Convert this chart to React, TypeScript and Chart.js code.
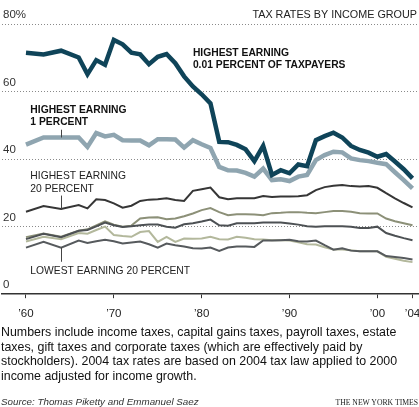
import React, { useEffect, useRef } from "react";
import { Chart, registerables } from "chart.js";

Chart.register(...registerables);

// ---- Data (percent tax rate) ----
const years = [
  1960, 1962, 1964, 1966, 1967, 1968, 1969, 1970, 1971, 1972, 1973, 1974, 1975, 1976,
  1977, 1978, 1979, 1980, 1981, 1982, 1983, 1984, 1985, 1986, 1987, 1988, 1989, 1990,
  1991, 1992, 1993, 1994, 1995, 1996, 1997, 1998, 1999, 2000, 2001, 2002, 2003, 2004,
];

const top001 = [
  71.5, 71.0, 72.1, 70.1, 65.1, 69.3, 67.9, 75.3, 74.0, 71.5, 71.0, 68.1, 70.3, 71.1,
  68.4, 64.5, 61.5, 59.2, 56.5, 45.1, 45.0, 44.2, 42.9, 39.4, 43.9, 35.3, 36.7, 35.8,
  38.4, 37.9, 45.6, 46.8, 47.8, 46.4, 43.9, 42.7, 41.9, 40.7, 41.5, 39.3, 37.0, 34.3,
];

const top1 = [
  44.3, 46.4, 46.4, 46.4, 43.6, 47.7, 46.7, 47.2, 45.6, 45.5, 45.5, 44.1, 45.9, 45.9,
  45.8, 43.4, 45.6, 44.4, 43.3, 37.7, 36.7, 36.6, 35.9, 34.8, 37.2, 33.8, 34.0, 33.5,
  34.8, 35.3, 39.7, 41.2, 42.2, 42.0, 40.2, 39.7, 39.4, 38.9, 38.5, 36.1, 33.8, 31.3,
];

const top20 = [
  24.4, 26.1, 25.2, 26.4, 25.4, 28.1, 27.9, 26.9, 25.6, 26.2, 27.6, 28.0, 28.1, 28.4,
  27.9, 27.6, 30.6, 31.1, 31.6, 28.7, 28.1, 28.4, 28.4, 28.4, 29.1, 28.8, 28.9, 28.9,
  29.0, 29.3, 30.8, 31.7, 32.1, 32.3, 32.0, 31.9, 32.0, 31.5, 29.9, 28.4, 27.0, 25.7,
];

const fourth = [
  16.9, 18.0, 17.0, 18.8, 19.2, 20.4, 21.6, 20.6, 20.0, 20.3, 22.4, 22.7, 22.8, 22.2,
  22.4, 23.1, 23.9, 24.9, 25.5, 24.3, 23.4, 23.7, 23.7, 23.6, 23.4, 24.0, 24.1, 24.3,
  24.3, 24.1, 24.0, 24.3, 24.6, 24.6, 24.4, 24.0, 23.9, 23.9, 22.4, 21.6, 21.0, 20.4,
];

const middle = [
  16.3, 17.9, 16.9, 18.8, 19.0, 20.1, 21.2, 20.4, 19.9, 20.1, 20.4, 20.6, 20.6, 20.0,
  19.7, 20.7, 21.0, 21.5, 22.1, 20.4, 20.3, 21.0, 21.0, 21.0, 21.2, 21.2, 21.2, 20.9,
  20.6, 20.1, 20.0, 20.1, 20.1, 20.1, 20.0, 19.6, 19.6, 20.0, 18.1, 17.3, 16.6, 16.0,
];

const second = [
  15.6, 17.0, 16.3, 18.1, 17.9, 19.0, 20.0, 17.5, 17.2, 17.0, 18.4, 18.7, 15.5, 17.0,
  15.5, 16.5, 16.4, 16.5, 17.0, 16.3, 16.2, 17.0, 16.7, 16.3, 16.2, 16.0, 16.0, 15.9,
  15.4, 14.8, 14.7, 13.9, 13.2, 13.2, 13.0, 12.7, 12.7, 12.7, 11.1, 10.5, 9.9, 9.5,
];

const bottom = [
  13.8, 15.5, 13.8, 15.9, 15.2, 15.7, 16.1, 15.7, 15.0, 15.3, 15.6, 14.8, 13.8, 15.0,
  14.5, 14.1, 13.6, 13.5, 13.8, 12.8, 13.8, 14.1, 14.1, 14.0, 15.9, 15.9, 16.0, 16.1,
  15.7, 15.6, 15.9, 14.5, 13.2, 13.6, 12.9, 12.7, 12.7, 12.7, 11.3, 11.0, 10.7, 10.3,
];

const xTickYears = [1960, 1970, 1980, 1990, 2000, 2004];
const yTickValues = [0, 20, 40, 60, 80];

const chartTitle = "TAX RATES BY INCOME GROUP";
const footnoteLines = [
  "Numbers include income taxes, capital gains taxes, payroll taxes, estate",
  "taxes, gift taxes and corporate taxes (which are effectively paid by",
  "stockholders). 2004 tax rates are based on 2004 tax law applied to 2000",
  "income adjusted for income growth.",
];
const sourceText = "Source: Thomas Piketty and Emmanuel Saez";
const creditText = "THE NEW YORK TIMES";

const leaderYear = 1964;
const li = years.indexOf(leaderYear);

// series label annotations, anchored in data coordinates
const annotations = [
  { lines: ["HIGHEST EARNING", "0.01 PERCENT OF TAXPAYERS"], x: 1979.0, y: 71.4, bold: true, leader: null },
  { lines: ["HIGHEST EARNING", "1 PERCENT"], x: 1960.5, y: 54.5, bold: true, leader: { from: 48.7, to: top1[li] } },
  { lines: ["HIGHEST EARNING", "20 PERCENT"], x: 1960.5, y: 34.8, bold: false, leader: { from: 29.2, to: top20[li] } },
  { lines: ["LOWEST EARNING 20 PERCENT"], x: 1960.5, y: 6.8, bold: false, leader: { from: 9.6, to: bottom[li] } },
];

const FONT = "'Liberation Sans', Arial, Helvetica, sans-serif";

const annotationPlugin = {
  id: "nytAnnotations",
  afterDatasetsDraw(chart: any) {
    const { ctx, scales } = chart;
    const xs = scales.x;
    const ys = scales.y;
    ctx.save();
    // title
    ctx.fillStyle = "#222";
    ctx.font = `10.8px ${FONT}`;
    ctx.textAlign = "right";
    ctx.textBaseline = "middle";
    ctx.fillText(chartTitle, chart.width - 2, ys.getPixelForValue(80) - 9);

    // labels
    ctx.textAlign = "left";
    for (const a of annotations) {
      ctx.font = `${a.bold ? "bold " : ""}10.3px ${FONT}`;
      ctx.fillStyle = a.bold ? "#111" : "#222";
      const px = xs.getPixelForValue(a.x);
      const py = ys.getPixelForValue(a.y);
      a.lines.forEach((t, i) => ctx.fillText(t, px, py + i * 12.5));
      if (a.leader) {
        const lx = Math.round(xs.getPixelForValue(leaderYear)) + 0.5;
        ctx.strokeStyle = "#444";
        ctx.lineWidth = 1;
        ctx.beginPath();
        ctx.moveTo(lx, ys.getPixelForValue(a.leader.from));
        ctx.lineTo(lx, ys.getPixelForValue(a.leader.to));
        ctx.stroke();
      }
    }
    ctx.restore();
  },
};

function mk(label: string, values: number[], color: string, width: number) {
  return {
    label,
    data: years.map((yr, i) => ({ x: yr, y: values[i] })),
    borderColor: color,
    backgroundColor: color,
    borderWidth: width,
    pointRadius: 0,
    tension: 0,
    fill: false,
  };
}

export default function App() {
  const ref = useRef<HTMLCanvasElement | null>(null);

  useEffect(() => {
    if (!ref.current) return;
    const chart = new Chart(ref.current, {
      type: "line",
      data: {
        datasets: [
          mk("Highest earning 0.01 percent", top001, "#0f4459", 4.5),
          mk("Highest earning 1 percent", top1, "#8fa5b0", 4.5),
          mk("Highest earning 20 percent", top20, "#363636", 2),
          mk("Middle 20 percent", middle, "#4d5154", 2),
          mk("Fourth 20 percent", fourth, "#8c9078", 2),
          mk("Lowest earning 20 percent", bottom, "#565a5d", 2),
          mk("Second 20 percent", second, "#b3b89c", 2),
        ],
      },
      options: {
        responsive: false,
        animation: false,
        devicePixelRatio: 1,
        layout: { padding: { top: 24, bottom: 4, left: 0, right: 0 }, autoPadding: false },
        plugins: { legend: { display: false }, tooltip: { enabled: false }, title: { display: false } },
        scales: {
          x: {
            type: "linear",
            min: 1957.27,
            max: 2004.74,
            afterBuildTicks: (s: any) => {
              s.ticks = xTickYears.map((v) => ({ value: v }));
            },
            afterFit: (s: any) => {
              s.paddingLeft = 0;
              s.paddingRight = 0;
            },
            ticks: {
              autoSkip: false,
              maxRotation: 0,
              padding: 9,
              color: "#222",
              font: { family: FONT, size: 11.5 },
              callback: (v: any) => "\u2019" + String(v).slice(2),
            },
            grid: { drawOnChartArea: false, drawTicks: true, tickLength: 4, tickColor: "#333", tickWidth: 1 },
            border: { display: true, color: "#333", width: 1.5 },
          },
          y: {
            type: "linear",
            min: 0,
            max: 80,
            afterBuildTicks: (s: any) => {
              s.ticks = yTickValues.map((v) => ({ value: v }));
            },
            ticks: {
              mirror: true,
              padding: 1,
              labelOffset: -9,
              color: "#333",
              font: { family: FONT, size: 11.5 },
              callback: (v: any) => (v === 80 ? "80%" : String(v)),
            },
            grid: {
              drawTicks: false,
              color: (c: any) => (c.tick && c.tick.value === 0 ? "rgba(0,0,0,0)" : "#8a8a8a"),
              lineWidth: 1,
            },
            border: { display: false, dash: [1, 2] },
          },
        },
      },
      plugins: [annotationPlugin],
    } as any);
    return () => chart.destroy();
  }, []);

  return (
    <div style={{ position: "absolute", left: 0, top: 0, width: 419, height: 407, background: "#fff", overflow: "hidden" }}>
      <canvas ref={ref} width={419} height={334} style={{ display: "block", width: 419, height: 334 }} />
      <div
        style={{
          position: "absolute",
          left: 1,
          top: 325,
          fontFamily: FONT,
          fontSize: 12.4,
          lineHeight: "14.7px",
          color: "#111",
          whiteSpace: "nowrap",
        }}
      >
        {footnoteLines.map((l, i) => (
          <div key={i}>{l}</div>
        ))}
      </div>
      <div
        style={{
          position: "absolute",
          left: 1,
          top: 396,
          fontFamily: FONT,
          fontSize: 9.8,
          lineHeight: "12px",
          fontStyle: "italic",
          color: "#333",
          whiteSpace: "nowrap",
        }}
      >
        {sourceText}
      </div>
      <div
        style={{
          position: "absolute",
          right: 1,
          top: 398,
          fontFamily: "'Liberation Serif', 'Times New Roman', serif",
          fontSize: 7.7,
          lineHeight: "10px",
          color: "#222",
          whiteSpace: "nowrap",
        }}
      >
        {creditText}
      </div>
    </div>
  );
}
